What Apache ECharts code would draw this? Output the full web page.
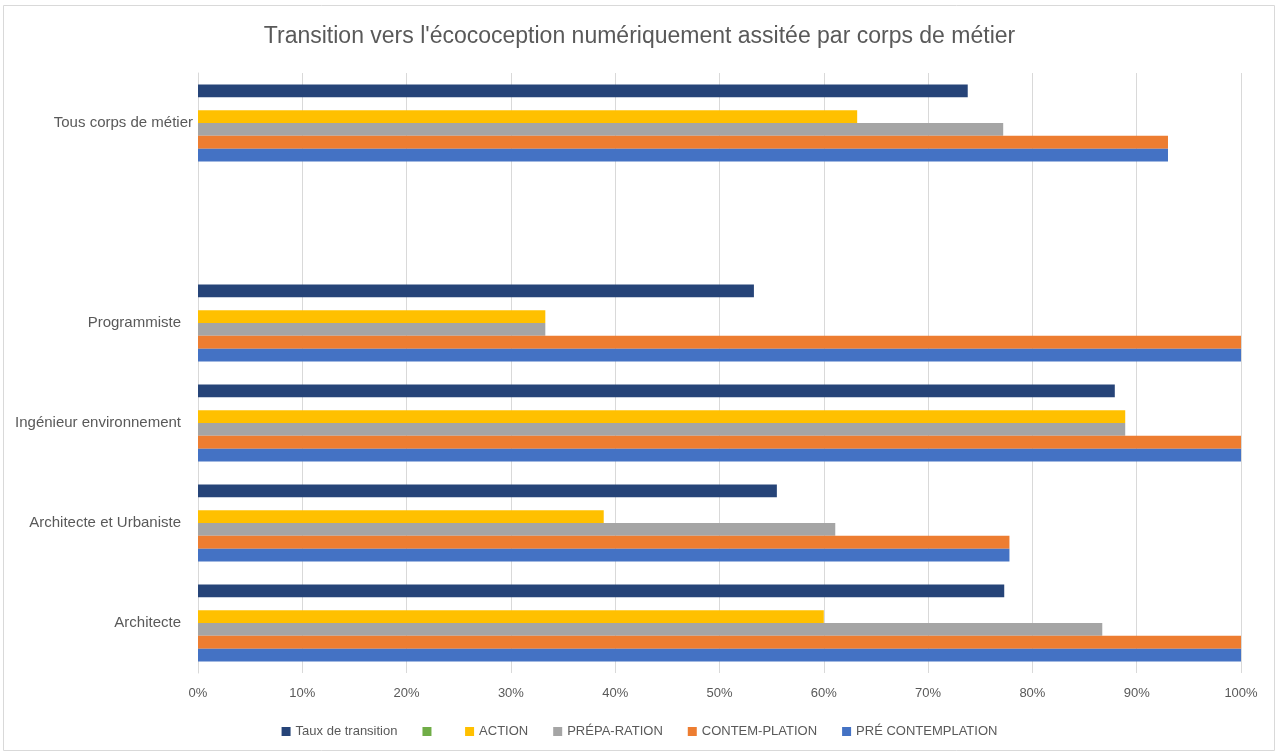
<!DOCTYPE html>
<html>
<head>
<meta charset="utf-8">
<script src="https://cdn.jsdelivr.net/npm/echarts@6/dist/echarts.min.js"></script>
<style>
html,body{margin:0;padding:0;background:#fff;}
#chart{width:1279px;height:753px;}
</style>
</head>
<body>
<div id="chart"></div>
<script>
// Data
var categories = ['Architecte', 'Architecte et Urbaniste', 'Ingénieur environnement', 'Programmiste', '', 'Tous corps de métier'];
var preContemplation = [100, 77.8, 100, 100, null, 93.0];
var contemplation = [100, 77.8, 100, 100, null, 93.0];
var preparation = [86.7, 61.1, 88.9, 33.3, null, 77.2];
var action = [60.0, 38.9, 88.9, 33.3, null, 63.2];
var greenSeries = [null, null, null, null, null, null];
var tauxTransition = [77.3, 55.5, 87.9, 53.3, null, 73.8];
var xTicks = [0, 10, 20, 30, 40, 50, 60, 70, 80, 90, 100];

var FONT = 'Liberation Sans';
var TXT = '#595959';

var chart = echarts.init(document.getElementById('chart'));
function bar(name, data, color) {
  return {
    name: name, type: 'bar', data: data,
    barGap: '0%', barCategoryGap: '23%',
    itemStyle: { color: color },
    emphasis: { disabled: true }
  };
}
chart.setOption({
  animation: false,
  textStyle: { fontFamily: FONT },
  title: {
    text: "Transition vers l'écocoception numériquement assitée par corps de métier",
    left: 'center', top: 20,
    textStyle: { fontFamily: FONT, fontSize: 23, fontWeight: 'normal', color: TXT }
  },
  graphic: [{
    type: 'rect', shape: { x: 3.5, y: 5.5, width: 1271, height: 745 },
    style: { fill: 'none', stroke: '#d9d9d9', lineWidth: 1 }, silent: true, z: -1
  }],
  legend: {
    bottom: 10, left: 'center', itemWidth: 9, itemHeight: 9, itemGap: 25,
    icon: 'rect',
    textStyle: { fontFamily: FONT, fontSize: 13, color: TXT },
    data: ['Taux de transition', ' ', 'ACTION', 'PRÉPA-RATION', 'CONTEM-PLATION', 'PRÉ CONTEMPLATION']
  },
  grid: { left: 198, right: 38, top: 73, bottom: 80, containLabel: false },
  xAxis: {
    type: 'value', min: xTicks[0], max: xTicks[xTicks.length - 1], interval: 10,
    axisLine: { show: false }, axisTick: { show: false },
    splitLine: { lineStyle: { color: '#d9d9d9' } },
    axisLabel: { formatter: '{value}%', color: TXT, fontSize: 13, margin: 14, fontFamily: FONT }
  },
  yAxis: {
    type: 'category', data: categories,
    axisLine: { show: true, lineStyle: { color: '#d9d9d9' } }, axisTick: { show: false },
    axisLabel: {
      color: TXT, fontSize: 15, margin: 17, fontFamily: FONT,
      formatter: function (v) { return v === 'Tous corps de métier' ? '{t|' + v + '}' : v; },
      rich: { t: { fontSize: 15, fontFamily: FONT, color: TXT, padding: [0, -12, 0, 0] } }
    }
  },
  series: [
    bar('Taux de transition', tauxTransition, '#264478'),
    bar(' ', greenSeries, '#70AD47'),
    bar('ACTION', action, '#FFC000'),
    bar('PRÉPA-RATION', preparation, '#A5A5A5'),
    bar('CONTEM-PLATION', contemplation, '#ED7D31'),
    bar('PRÉ CONTEMPLATION', preContemplation, '#4472C4')
  ]
});
</script>
</body>
</html>
